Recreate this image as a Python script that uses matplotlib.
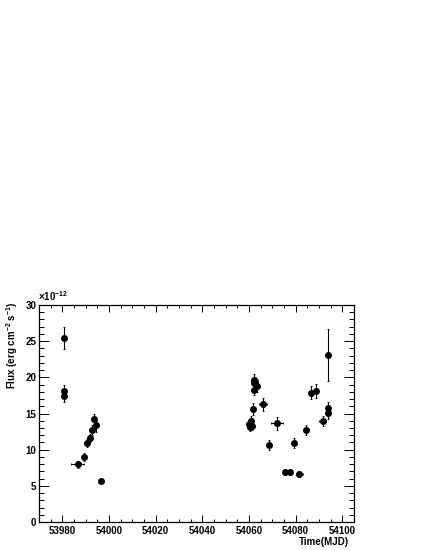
import numpy as np
import matplotlib
matplotlib.use("Agg")
import matplotlib.pyplot as plt
from matplotlib.ticker import MultipleLocator

plt.rcParams['font.family'] = ['Liberation Sans', 'DejaVu Sans']
plt.rcParams['font.weight'] = 'bold'
plt.rcParams['mathtext.fontset'] = 'custom'
plt.rcParams['mathtext.rm'] = 'Liberation Sans:bold'
plt.rcParams['mathtext.it'] = 'Liberation Sans:bold'
plt.rcParams['mathtext.bf'] = 'Liberation Sans:bold'

# light curve (MJD, flux in 1e-12 erg/cm2/s)
mjd = [53980.6, 53980.5, 53980.5, 53986.6, 53989.4, 53990.7, 53991.7,
       53992.7, 53993.6, 53994.6, 53996.4,
       54060.1, 54060.7, 54061.2, 54060.4, 54061.6,
       54062.2, 54062.3, 54062.7, 54063.3, 54062.3,
       54065.9, 54068.7, 54071.9, 54075.3, 54077.4, 54079.4, 54081.6,
       54084.3, 54086.5, 54088.7, 54091.6, 54093.7, 54093.7, 54093.7]
flux = [25.4, 18.1, 17.4, 8.0, 9.0, 10.9, 11.6,
        12.7, 14.3, 13.4, 5.7,
        13.5, 14.0, 13.3, 13.2, 15.6,
        19.6, 19.2, 19.3, 18.85, 18.3,
        16.3, 10.6, 13.65, 6.9, 6.9, 10.9, 6.6,
        12.7, 17.9, 18.1, 14.0, 23.1, 15.8, 15.1]
flux_err = [1.5, 0.9, 0.8, 0.5, 0.6, 0.6, 0.6,
            0.7, 0.7, 0.9, 0.3,
            0.6, 0.6, 0.6, 0.6, 0.8,
            0.8, 0.7, 0.8, 0.9, 0.8,
            0.9, 0.7, 0.9, 0.4, 0.4, 0.7, 0.4,
            0.7, 0.9, 1.0, 0.7, 3.6, 0.8, 0.8]
mjd_err = [0.4, 0.4, 0.4, 2.8, 0.4, 0.5, 0.5,
           0.4, 0.4, 0.4, 0.6,
           0.4, 0.4, 0.4, 0.4, 0.4,
           0.4, 0.4, 0.4, 0.4, 0.4,
           1.8, 0.5, 2.6, 0.5, 0.5, 0.5, 1.4,
           0.6, 0.6, 0.6, 1.4, 0.4, 0.4, 0.4]

fig = plt.figure(figsize=(4.25, 5.5), dpi=100)
ax = fig.add_axes([39/425, 1 - 522/550, 315/425, 217/550])

ax.errorbar(mjd, flux, yerr=flux_err, xerr=mjd_err, fmt='o', color='black',
            markersize=4, elinewidth=0.8, capsize=1, capthick=0.6)

ax.set_xlim(53970, 54105)
ax.set_ylim(0, 30)

ax.xaxis.set_major_locator(MultipleLocator(20))
ax.xaxis.set_minor_locator(MultipleLocator(5))
ax.yaxis.set_major_locator(MultipleLocator(5))
ax.yaxis.set_minor_locator(MultipleLocator(1))

ax.tick_params(axis='both', which='both', direction='in', top=True, right=True,
               labelsize=7, width=0.7, color='black')
ax.tick_params(axis='x', which='major', length=4.7, pad=3)
ax.tick_params(axis='x', which='minor', length=2.0)
ax.tick_params(axis='y', which='major', length=7, pad=2)
ax.tick_params(axis='y', which='minor', length=3.5)
for lbl in ax.get_xticklabels() + ax.get_yticklabels():
    lbl.set_fontweight('bold')
for sp in ax.spines.values():
    sp.set_linewidth(0.9)

fig.text(38/425, 1 - 303/550, r'$\times10^{-12}$', fontsize=7, ha='left', va='bottom')
fig.text(20/425, 1 - 302/550, r'Flux (erg cm$^{-2}$ s$^{-1}$)', fontsize=7,
         rotation=90, rotation_mode='anchor', ha='right', va='bottom', fontweight='bold')
fig.text(349/425, 1 - 542/550, 'Time(MJD)', fontsize=7, ha='right', va='center',
         fontweight='bold')

fig.savefig('out.png', dpi=100, facecolor='white')
